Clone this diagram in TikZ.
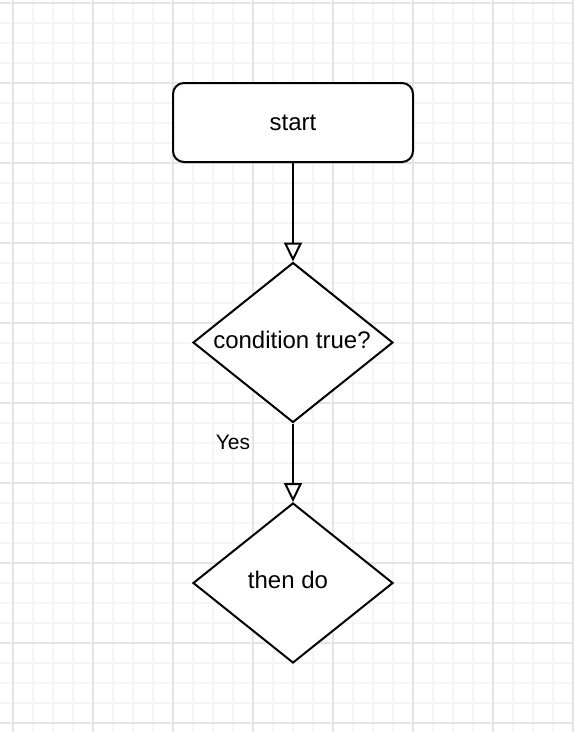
\documentclass[tikz,border=0pt]{standalone}
\usepackage{fontspec}
\setmainfont{Liberation Sans}
\usetikzlibrary{shapes.geometric,arrows.meta}
\definecolor{gmajor}{HTML}{E4E4E4}
\definecolor{gminor}{HTML}{F5F5F5}
\tikzset{
  minorline/.style={draw=gminor, line width=1.2pt},
  majorline/.style={draw=gmajor, line width=1.3pt},
  stepbox/.style={draw=black, line width=2pt, rounded corners=11pt, fill=white,
    minimum width=240pt, minimum height=79pt, inner sep=0pt,
    font=\fontsize{24pt}{28pt}\selectfont},
  decision/.style={draw=black, line width=2pt, diamond, fill=white,
    minimum width=200pt, minimum height=160pt, inner sep=0pt},
  dtext/.style={font=\fontsize{24pt}{28pt}\selectfont},
  arr/.style={draw=black, line width=2pt,
    -{Triangle[fill=white, length=19pt, width=18pt]}},
  elabel/.style={font=\fontsize{21pt}{25pt}\selectfont, inner sep=0pt}
}
\begin{document}
\begin{tikzpicture}[x=1pt, y=1pt]
\useasboundingbox (0,0) rectangle (574,-732);
\fill[white] (0,0) rectangle (574,-732);
% grid
\foreach \x in {13,33,...,573} \draw[minorline] (\x,0) -- (\x,-732);
\foreach \y in {3,23,...,723} \draw[minorline] (0,-\y) -- (574,-\y);
\foreach \x in {13,93,...,573} \draw[majorline] (\x,0) -- (\x,-732);
\foreach \y in {3,83,...,723} \draw[majorline] (0,-\y) -- (574,-\y);
% nodes
\node[stepbox] (start) at (293,-122.5) {start};
\node[decision] (cond) at (293,-342.5) {};
\node[dtext] (condtext) at (292,-340) {condition true?};
\node[decision] (then) at (293,-583) {};
\node[dtext] (thentext) at (288,-580) {then do};
% connectors
\draw[arr] (start.south) -- (cond.north);
\draw[arr] (cond.south) -- (then.north);
\node[elabel] (yes) at (233,-442) {Yes};
\end{tikzpicture}
\end{document}
